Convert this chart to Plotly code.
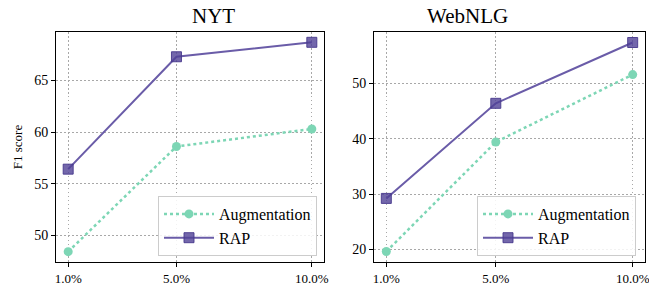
import plotly.graph_objects as go
from plotly.subplots import make_subplots

x_vals = [1, 5, 10]
x_labels = ["1.0%", "5.0%", "10.0%"]
titles = ["NYT", "WebNLG"]
nyt_aug = [48.4, 58.6, 60.3]
nyt_rap = [56.4, 67.3, 68.7]
web_aug = [19.6, 39.4, 51.6]
web_rap = [29.2, 46.4, 57.4]

W, H = 649, 287
L, R, T, B = 56, 4, 32, 25
PW, PH = W - L - R, H - T - B
AUG_C = "#7dd6b5"
RAP_C = "#6a5ca8"
RAP_M = "rgba(80,65,150,0.8)"
FONT = "Liberation Serif"

fig = make_subplots(rows=1, cols=2)

panels = [(nyt_aug, nyt_rap, "legend"), (web_aug, web_rap, "legend2")]
for i, (aug, rap, leg) in enumerate(panels, start=1):
    fig.add_trace(go.Scatter(x=x_vals, y=aug, name="Augmentation", mode="lines+markers",
                             line=dict(color=AUG_C, width=2.5, dash="dot"),
                             marker=dict(symbol="circle", size=9, color=AUG_C),
                             legend=leg), row=1, col=i)
    fig.add_trace(go.Scatter(x=x_vals, y=rap, name="RAP", mode="lines+markers",
                             line=dict(color=RAP_C, width=2),
                             marker=dict(symbol="square", size=10, color=RAP_M,
                                         line=dict(color="rgba(70,55,140,0.9)", width=1)),
                             legend=leg), row=1, col=i)

def px(x):
    return (x - L) / PW

def py(y):
    return 1 - (y - T) / PH

leg_common = dict(xanchor="right", yanchor="middle",
                  bgcolor="rgba(255,255,255,0.85)", bordercolor="#cccccc", borderwidth=1,
                  font=dict(size=16, family=FONT), itemwidth=50, tracegroupgap=0)
fig.update_layout(
    width=W, height=H, margin=dict(l=L, r=R, t=T, b=B, autoexpand=False),
    paper_bgcolor="white", plot_bgcolor="white",
    font=dict(family=FONT, size=12, color="black"),
    xaxis=dict(domain=[0, px(324)]),
    xaxis2=dict(domain=[px(374), 1]),
    yaxis=dict(domain=[0, 1], range=[47.4, 69.7], tickvals=[50, 55, 60, 65],
               title=dict(text="F1 score", font=dict(size=13), standoff=8)),
    yaxis2=dict(domain=[0, 1], range=[17.7, 59.3], tickvals=[20, 30, 40, 50]),
    legend=dict(x=px(317), y=py(226), **leg_common),
    legend2=dict(x=px(636), y=py(226), **leg_common),
)

for ax in ["xaxis", "xaxis2"]:
    fig.layout[ax].update(range=[0.55, 10.45], tickvals=x_vals, ticktext=x_labels,
                          showline=True, linecolor="black", linewidth=1, mirror=True,
                          ticks="outside", ticklen=4, tickcolor="black",
                          showgrid=True, gridcolor="#a8a8a8", griddash="1.5px,2.5px", gridwidth=1,
                          zeroline=False, tickfont=dict(size=13), automargin=False,
                          ticklabeloverflow="allow")
for ax in ["yaxis", "yaxis2"]:
    fig.layout[ax].update(showline=True, linecolor="black", linewidth=1, mirror=True,
                          ticks="outside", ticklen=4, tickcolor="black",
                          showgrid=True, gridcolor="#a8a8a8", griddash="1.5px,2.5px", gridwidth=1,
                          zeroline=False, tickfont=dict(size=14), automargin=False,
                          ticklabeloverflow="allow")

for t, (x0, x1) in zip(titles, [(56, 324), (374, 645)]):
    fig.add_annotation(text=t, x=px((x0 + x1) / 2), y=py(16), xref="paper", yref="paper",
                       showarrow=False, font=dict(size=21, family=FONT), yanchor="middle")

fig.write_html("out.html", post_script="document.body.style.margin='0';",
               config={"displayModeBar": False})
